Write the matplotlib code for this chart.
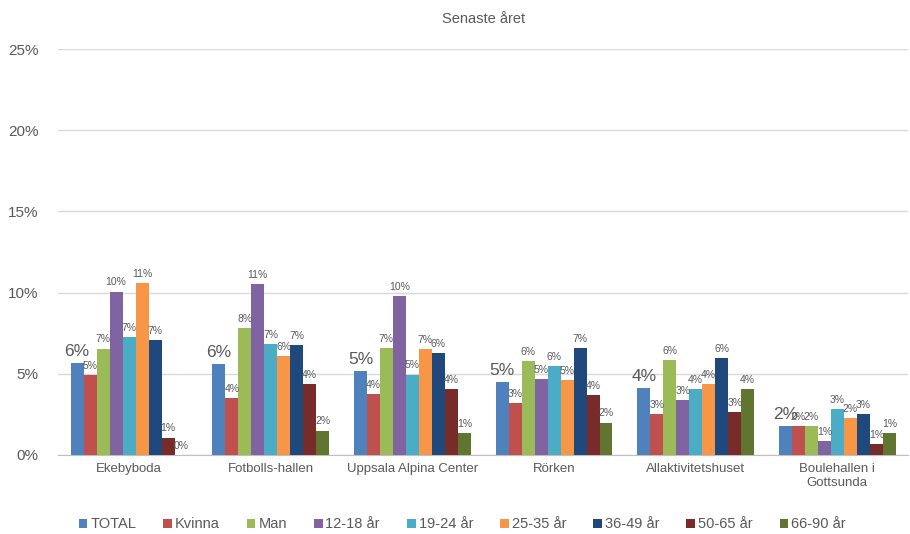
import numpy as np
import matplotlib
matplotlib.use("Agg")
import matplotlib.pyplot as plt
from matplotlib.ticker import FuncFormatter

plt.rcParams['font.family'] = ['Liberation Sans', 'DejaVu Sans']

categories = ["Ekebyboda", "Fotbolls-hallen", "Uppsala Alpina Center", "Rörken",
              "Allaktivitetshuset", "Boulehallen i\nGottsunda"]
series = ["TOTAL", "Kvinna", "Man", "12-18 år", "19-24 år", "25-35 år",
          "36-49 år", "50-65 år", "66-90 år"]
total = [5.65, 5.6, 5.17, 4.5, 4.14, 1.79]
kvinna = [4.93, 3.5, 3.76, 3.18, 2.54, 1.79]
man = [6.55, 7.8, 6.57, 5.77, 5.87, 1.79]
age_12_18 = [10.06, 10.55, 9.79, 4.68, 3.39, 0.88]
age_19_24 = [7.25, 6.83, 4.95, 5.5, 4.06, 2.85]
age_25_35 = [10.6, 6.1, 6.52, 4.6, 4.37, 2.28]
age_36_49 = [7.08, 6.77, 6.26, 6.57, 5.99, 2.52]
age_50_65 = [1.07, 4.37, 4.04, 3.67, 2.65, 0.66]
age_66_90 = [0.0, 1.5, 1.37, 1.99, 4.04, 1.35]
values = [total, kvinna, man, age_12_18, age_19_24, age_25_35, age_36_49, age_50_65, age_66_90]
colors = ["#4F81BD", "#C0504D", "#9BBB59", "#8064A2", "#4BACC6", "#F79646",
          "#1F497D", "#772C2A", "#5F7530"]

fig = plt.figure(figsize=(9.1, 5.34), dpi=100)
ax = fig.add_axes([0.064, 0.148, 0.934, 0.76])

n = len(series)
x = np.arange(len(categories))
bw = 0.0917
for i, (name, vals, col) in enumerate(zip(series, values, colors)):
    pos = x + (i - (n - 1) / 2) * bw
    bars = ax.bar(pos, vals, width=bw, color=col, label=name, zorder=3)
    for b, v in zip(bars, vals):
        lbl = f"{int(np.floor(v + 0.5))}%"
        fs = 12.5 if i == 0 else 7.5
        ax.annotate(lbl, (b.get_x() + b.get_width() / 2, v), xytext=(0, 3),
                    textcoords="offset points", ha="center", va="bottom",
                    fontsize=fs, color="#595959", zorder=4)

ax.set_xlim(-0.5, len(categories) - 0.5)
ax.set_ylim(0, 25)
ax.set_yticks([0, 5, 10, 15, 20, 25])
ax.yaxis.set_major_formatter(FuncFormatter(lambda v, p: f"{int(v)}%"))
ax.grid(axis='y', color="#D9D9D9", linewidth=1, zorder=0)
ax.set_xticks(x)
ax.set_xticklabels(categories, fontsize=9.5, color="#595959")
ax.tick_params(axis='y', labelsize=11, colors="#595959", length=0, pad=14)
ax.tick_params(axis='x', length=0, pad=6)
for s in ["top", "right", "left"]:
    ax.spines[s].set_visible(False)
ax.spines["bottom"].set_color("#BFBFBF")
ax.set_title("Senaste året", fontsize=10.5, color="#595959", pad=19)

leg = fig.legend(loc="center", bbox_to_anchor=(0.508, 0.018), ncol=9, frameon=False,
                 fontsize=10.5, handlelength=0.6, handleheight=0.6, handletextpad=0.2,
                 columnspacing=1.85, labelcolor="#595959")

fig.savefig("out.png", dpi=100)
